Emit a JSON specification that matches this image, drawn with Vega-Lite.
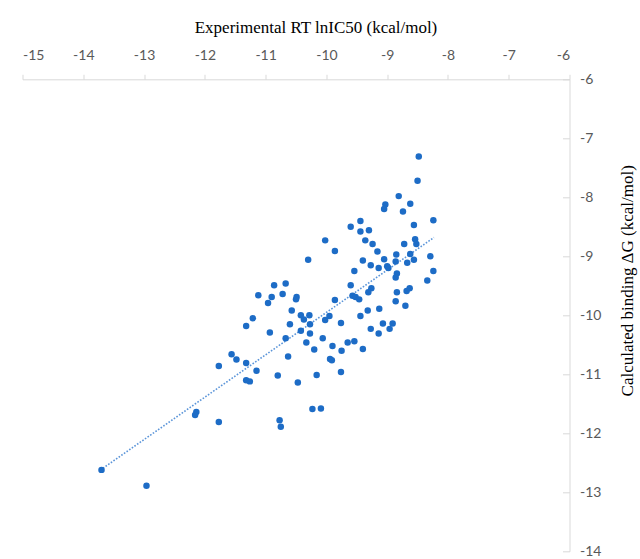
{
  "$schema": "https://vega.github.io/schema/vega-lite/v6.json",
  "width": 547,
  "height": 472,
  "autosize": {"type": "none"},
  "padding": {"left": 22.5, "top": 79.3, "right": 70, "bottom": 8},
  "background": "white",
  "config": {"view": {"stroke": null}},
  "datasets": {
    "pts": [
      {"exp": -10.30, "calc": -9.06}, {"exp": -10.67, "calc": -9.46}, {"exp": -10.86, "calc": -9.49},
      {"exp": -11.12, "calc": -9.66}, {"exp": -10.72, "calc": -9.64}, {"exp": -10.90, "calc": -9.69},
      {"exp": -10.96, "calc": -9.79}, {"exp": -10.49, "calc": -9.69}, {"exp": -10.50, "calc": -9.73},
      {"exp": -10.57, "calc": -9.92}, {"exp": -10.42, "calc": -10.00}, {"exp": -10.28, "calc": -10.00},
      {"exp": -10.37, "calc": -10.07}, {"exp": -11.21, "calc": -10.05}, {"exp": -11.32, "calc": -10.18},
      {"exp": -10.60, "calc": -10.15}, {"exp": -10.27, "calc": -10.15}, {"exp": -10.02, "calc": -10.08},
      {"exp": -10.93, "calc": -10.29}, {"exp": -10.42, "calc": -10.26}, {"exp": -10.27, "calc": -10.31},
      {"exp": -10.67, "calc": -10.39}, {"exp": -10.06, "calc": -10.39}, {"exp": -10.33, "calc": -10.46},
      {"exp": -10.20, "calc": -10.58}, {"exp": -10.63, "calc": -10.70}, {"exp": -11.56, "calc": -10.66},
      {"exp": -11.48, "calc": -10.75}, {"exp": -11.32, "calc": -10.81}, {"exp": -11.77, "calc": -10.86},
      {"exp": -11.15, "calc": -10.94}, {"exp": -10.80, "calc": -11.02}, {"exp": -10.16, "calc": -11.01},
      {"exp": -11.32, "calc": -11.10}, {"exp": -11.26, "calc": -11.12}, {"exp": -10.47, "calc": -11.14},
      {"exp": -10.23, "calc": -11.59}, {"exp": -10.09, "calc": -11.58}, {"exp": -12.14, "calc": -11.64},
      {"exp": -12.16, "calc": -11.69}, {"exp": -11.77, "calc": -11.81}, {"exp": -10.77, "calc": -11.78},
      {"exp": -10.75, "calc": -11.89}, {"exp": -13.70, "calc": -12.62}, {"exp": -12.96, "calc": -12.89},
      {"exp": -8.48, "calc": -7.31}, {"exp": -8.50, "calc": -7.72}, {"exp": -8.81, "calc": -7.98},
      {"exp": -9.03, "calc": -8.12}, {"exp": -9.05, "calc": -8.20}, {"exp": -8.74, "calc": -8.24},
      {"exp": -8.62, "calc": -8.11}, {"exp": -8.24, "calc": -8.39}, {"exp": -9.44, "calc": -8.40},
      {"exp": -9.60, "calc": -8.50}, {"exp": -9.44, "calc": -8.58}, {"exp": -9.30, "calc": -8.56},
      {"exp": -8.56, "calc": -8.47}, {"exp": -9.36, "calc": -8.73}, {"exp": -9.24, "calc": -8.79},
      {"exp": -10.02, "calc": -8.73}, {"exp": -8.54, "calc": -8.71}, {"exp": -8.52, "calc": -8.79},
      {"exp": -8.72, "calc": -8.79}, {"exp": -9.16, "calc": -8.92}, {"exp": -9.86, "calc": -8.91},
      {"exp": -8.85, "calc": -8.97}, {"exp": -8.62, "calc": -8.96}, {"exp": -8.29, "calc": -9.00},
      {"exp": -9.40, "calc": -9.07}, {"exp": -9.05, "calc": -9.05}, {"exp": -8.86, "calc": -9.09},
      {"exp": -8.56, "calc": -9.06}, {"exp": -8.67, "calc": -9.11}, {"exp": -9.27, "calc": -9.15},
      {"exp": -9.14, "calc": -9.20}, {"exp": -9.00, "calc": -9.17}, {"exp": -8.98, "calc": -9.20},
      {"exp": -9.54, "calc": -9.25}, {"exp": -8.24, "calc": -9.25}, {"exp": -8.84, "calc": -9.29},
      {"exp": -8.86, "calc": -9.36}, {"exp": -8.34, "calc": -9.41}, {"exp": -9.60, "calc": -9.49},
      {"exp": -9.26, "calc": -9.54}, {"exp": -9.31, "calc": -9.61}, {"exp": -8.84, "calc": -9.61},
      {"exp": -8.68, "calc": -9.59}, {"exp": -8.63, "calc": -9.54}, {"exp": -9.57, "calc": -9.67},
      {"exp": -9.52, "calc": -9.69}, {"exp": -9.46, "calc": -9.73}, {"exp": -9.86, "calc": -9.74},
      {"exp": -8.86, "calc": -9.76}, {"exp": -8.70, "calc": -9.84}, {"exp": -9.13, "calc": -9.89},
      {"exp": -9.32, "calc": -9.92}, {"exp": -9.44, "calc": -10.01}, {"exp": -9.95, "calc": -10.01},
      {"exp": -9.76, "calc": -10.13}, {"exp": -9.07, "calc": -10.14}, {"exp": -8.91, "calc": -10.14},
      {"exp": -8.96, "calc": -10.23}, {"exp": -9.27, "calc": -10.23}, {"exp": -9.14, "calc": -10.31},
      {"exp": -9.65, "calc": -10.46}, {"exp": -9.54, "calc": -10.44}, {"exp": -9.90, "calc": -10.52},
      {"exp": -9.75, "calc": -10.60}, {"exp": -9.40, "calc": -10.57}, {"exp": -9.94, "calc": -10.74},
      {"exp": -9.91, "calc": -10.76}, {"exp": -9.76, "calc": -10.96}
    ]
  },
  "layer": [
    {
      "data": {"name": "pts"},
      "transform": [{"regression": "calc", "on": "exp", "extent": [-13.72, -8.23]}],
      "mark": {"type": "line", "color": "#5b95d9", "strokeWidth": 1.6, "strokeDash": [1.6, 1.6]},
      "encoding": {
        "x": {"field": "exp", "type": "quantitative", "scale": {"domain": [-15, -6], "nice": false, "zero": false}},
        "y": {"field": "calc", "type": "quantitative", "scale": {"domain": [-14, -6], "nice": false, "zero": false}}
      }
    },
    {
      "data": {"name": "pts"},
      "mark": {"type": "circle", "size": 42, "opacity": 1, "color": "#1d6cc6"},
      "encoding": {
        "x": {
          "field": "exp", "type": "quantitative",
          "scale": {"domain": [-15, -6], "nice": false, "zero": false},
          "axis": {
            "orient": "top", "grid": false,
            "values": [-15, -14, -13, -12, -11, -10, -9, -8, -7, -6],
            "labelExpr": "'' + datum.value",
            "domainColor": "#d9d9d9", "tickColor": "#d9d9d9", "tickSize": 5,
            "labelColor": "#595959", "labelFont": "Lato", "labelFontSize": 14, "labelPadding": 12,
            "title": "Experimental RT lnIC50 (kcal/mol)",
            "titleFont": "Liberation Serif", "titleFontSize": 17, "titleFontWeight": "normal", "titleColor": "#000000",
            "titleX": 293, "titleY": -52, "titleAlign": "center", "titleBaseline": "middle"
          }
        },
        "y": {
          "field": "calc", "type": "quantitative",
          "scale": {"domain": [-14, -6], "nice": false, "zero": false},
          "axis": {
            "orient": "right", "grid": false,
            "values": [-14, -13, -12, -11, -10, -9, -8, -7, -6],
            "labelExpr": "'' + datum.value",
            "domainColor": "#d9d9d9", "tickColor": "#d9d9d9", "tickSize": -7,
            "labelColor": "#595959", "labelFont": "Lato", "labelFontSize": 14, "labelPadding": 17,
            "title": "Calculated binding ΔG (kcal/mol)",
            "titleFont": "Liberation Serif", "titleFontSize": 17, "titleFontWeight": "normal", "titleColor": "#000000",
            "titleAngle": 270, "titleX": 58, "titleY": 201, "titleAlign": "center", "titleBaseline": "middle"
          }
        }
      }
    }
  ]
}
